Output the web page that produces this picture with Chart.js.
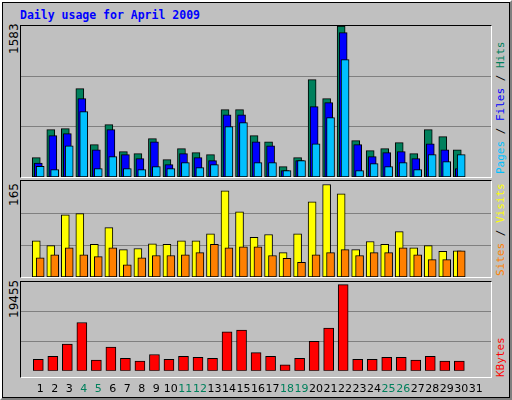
<!DOCTYPE html>
<html>
<head>
<meta charset="utf-8">
<script src="https://cdn.jsdelivr.net/npm/chart.js@4"></script>
<style>
  body { margin: 0; background: #fff; }
  #frame { position: absolute; left: 0; top: 0; width: 508px; height: 396px; background: #c0c0c0;
    border-top: 2px solid #fff; border-left: 2px solid #fff; border-right: 2px solid #808080; border-bottom: 2px solid #808080;
    box-shadow: inset 0 0 0 1px #000; }
  #title { position: absolute; left: 20px; top: 8px; font: bold 11.5px "DejaVu Sans Mono", monospace; color: #0000ff; }
  .panel { position: absolute; left: 20px; width: 470px; border-top: 1px solid #000; border-left: 1px solid #000;
    border-right: 1px solid #fff; border-bottom: 1px solid #fff; }
  canvas { position: absolute; }
  .vlab { position: absolute; transform: rotate(-90deg); transform-origin: left top; white-space: nowrap; }
  .maxlab { font: 12px "DejaVu Sans", sans-serif; color: #000; }
  .side { font: 11px "DejaVu Sans Mono", monospace; }
</style>
</head>
<body>
<div id="frame"></div>
<div id="title">Daily usage for April 2009</div>
<div class="panel" style="top:25px;height:151px"></div>
<div class="panel" style="top:180px;height:96px"></div>
<div class="panel" style="top:281px;height:95px"></div>
<canvas id="c1" style="left:21px;top:26px" width="470" height="151"></canvas>
<canvas id="c2" style="left:21px;top:181px" width="470" height="96"></canvas>
<canvas id="c3" style="left:21px;top:282px" width="470" height="118"></canvas>
<div class="vlab maxlab" id="m1" style="left:7px;top:54px"></div>
<div class="vlab maxlab" id="m2" style="left:7px;top:206px"></div>
<div class="vlab maxlab" id="m3" style="left:7px;top:318px"></div>
<div class="vlab side" style="left:494px;top:174px"><span style="color:#00c0ff">Pages</span> / <span style="color:#0000ff">Files</span> / <span style="color:#00805c">Hits</span></div>
<div class="vlab side" style="left:494px;top:276px"><span style="color:#ff8000">Sites</span> / <span style="color:#ffff00">Visits</span></div>
<div class="vlab side" style="left:494px;top:377px"><span style="color:#ff0000">KBytes</span></div>
<script>
const days = [1,2,3,4,5,6,7,8,9,10,11,12,13,14,15,16,17,18,19,20,21,22,23,24,25,26,27,28,29,30,31];
const weekends = [4,5,11,12,18,19,25,26];
const hits   = [203,496,507,926,339,549,266,245,402,182,297,255,234,706,706,433,370,108,203,1020,821,1583,381,276,297,360,245,496,423,286];
const files  = [147,433,454,821,286,496,234,192,370,129,245,203,171,653,653,370,328,66,171,737,779,1513,339,213,255,266,192,349,286,87];
const pages  = [112,77,328,685,87,213,87,77,108,87,150,98,129,528,570,150,150,66,171,349,622,1230,66,140,108,150,77,234,161,234];
const visits = [62,54,107,109,56,85,47,49,57,56,62,62,74,148,112,68,73,42,74,129,159,143,47,61,56,78,50,54,44,45];
const sites  = [33,38,50,38,35,50,21,33,37,37,38,42,56,50,52,52,37,32,25,38,42,47,37,42,42,50,38,30,30,45];
const kbytes = [2540,3160,5840,10580,2340,5220,2750,2130,3570,2540,3160,2950,2750,8520,8930,3980,3160,1300,2750,6460,9340,18890,2540,2540,2950,2950,2340,3160,2130,2130];
const maxLabels = [1583, 165, 19455];

document.getElementById("m1").innerText = maxLabels[0];
document.getElementById("m2").innerText = maxLabels[1];
document.getElementById("m3").innerText = maxLabels[2];

function series(values, shift) {
  return values.map((v, i) => ({ x: days[i] + shift, y: v }));
}

function barSet(values, shift, color, width, order) {
  return {
    data: series(values, shift),
    backgroundColor: color,
    borderColor: "#000",
    borderWidth: 1,
    borderSkipped: false,
    barThickness: width,
    grouped: false,
    order: order,
  };
}

function makeChart(id, datasets, yMax, showX) {
  return new Chart(document.getElementById(id), {
    type: "bar",
    data: { datasets: datasets },
    options: {
      responsive: false,
      animation: false,
      devicePixelRatio: 1,
      layout: { padding: 0 },
      plugins: { legend: { display: false }, tooltip: { enabled: false } },
      scales: {
        x: {
          type: "linear",
          min: 0.2,
          max: 31.53,
          display: showX,
          grid: { display: false },
          border: { display: false },
          afterBuildTicks: (axis) => { axis.ticks = days.map((d) => ({ value: d })); },
          ticks: {
            autoSkip: false,
            maxRotation: 0,
            padding: 4,
            font: { family: "DejaVu Sans", size: 11 },
            color: (ctx) => weekends.includes(ctx.tick.value) ? "#00805c" : "#000",
          },
        },
        y: {
          min: 0,
          max: yMax,
          afterBuildTicks: (axis) => { axis.ticks = [1, 2].map((k) => ({ value: yMax * k / 3 })); },
          ticks: { display: false },
          grid: { color: "#808080", drawTicks: false, lineWidth: 1 },
          border: { display: false },
        },
      },
    },
  });
}

makeChart("c1", [
  barSet(hits, -0.27, "#00805c", 8, 3),
  barSet(files, -0.13, "#0000ff", 8, 2),
  barSet(pages, 0, "#00c0ff", 8, 1),
], maxLabels[0], false);

makeChart("c2", [
  barSet(visits, -0.27, "#ffff00", 8, 2),
  barSet(sites, 0, "#ff8000", 8, 1),
], maxLabels[1], false);

makeChart("c3", [
  barSet(kbytes, -0.13, "#ff0000", 10, 1),
], maxLabels[2], true);
</script>
</body>
</html>
